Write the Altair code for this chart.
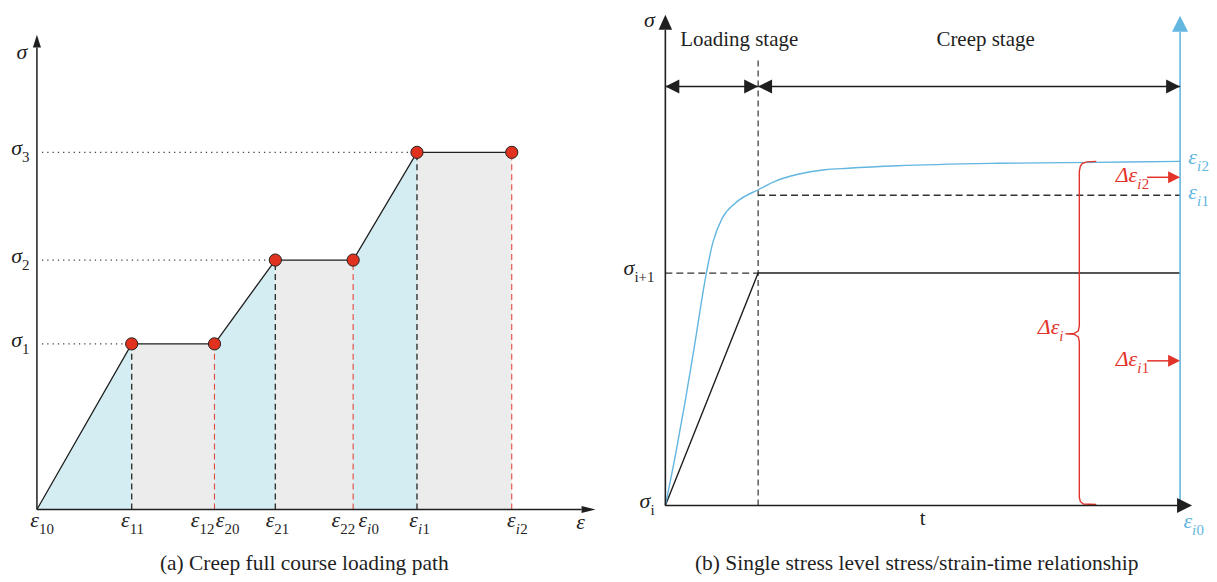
import altair as alt
import pandas as pd

FONT = "Liberation Serif"
BLACK = "#1f1f1f"
RED = "#e2342a"
BLUE = "#62b6e0"
CYAN = "#d4edf2"
GRAY = "#ebeceb"

# ---------------- panel (a): strain (x) vs stress (y) ----------------
a_path_eps = [0.0, 0.95, 1.78, 2.39, 3.17, 3.81, 4.76]
a_path_sig = [0.0, 1.66, 1.66, 2.50, 2.50, 3.58, 3.58]
a_seg_kind = ["load", "creep", "load", "creep", "load", "creep"]
a_dash_black_eps = [0.95, 2.39, 3.81]
a_dash_black_sig = [1.66, 2.50, 3.58]
a_dash_red_eps = [1.78, 3.17, 4.76]
a_dash_red_sig = [1.66, 2.50, 3.58]
a_sigma_levels = [1.66, 2.50, 3.58]
a_sigma_reach = [0.95, 2.39, 3.81]
a_axis_x = [0.0, 5.46]   # x-axis line (arrow base)
a_axis_x_tip = 5.60
a_axis_y = [0.0, 4.63]
a_axis_y_tip = 4.76

a_lab_base = ["σ", "σ", "σ", "ε", "ε", "ε", "ε", "ε", "ε", "ε", "ε", "ε"]
a_lab_subi = ["", "", "", "", "", "", "", "", "", "i", "i", "i"]
a_lab_subn = ["1", "2", "3", "10", "11", "12", "20", "21", "22", "0", "1", "2"]
a_lab_x = [-0.15, -0.15, -0.15, 0.02, 0.93, 1.63, 1.88, 2.38, 3.04, 3.31, 3.82, 4.80]
a_lab_y = [1.68, 2.52, 3.60, -0.13, -0.13, -0.13, -0.13, -0.13, -0.13, -0.13, -0.13, -0.13]

a_sym_text = ["σ", "ε"]
a_sym_x = [-0.15, 5.45]
a_sym_y = [4.59, -0.13]
a_caption = "(a) Creep full course loading path"
a_caption_xy = (2.68, -0.55)

# ---------------- panel (b): time (x) vs stress/strain (y) ----------------
b_load_t = [0.0, 0.93, 5.16]
b_load_s = [0.0, 2.33, 2.33]
b_curve_t = [0.0, 0.10, 0.20, 0.30, 0.40, 0.48, 0.57, 0.70, 0.94, 1.10, 1.33, 1.60,
             1.83, 2.33, 3.33, 4.33, 5.16]
b_curve_s = [0.0, 0.50, 1.05, 1.65, 2.27, 2.65, 2.88, 3.03, 3.17, 3.25, 3.32, 3.365,
             3.38, 3.405, 3.43, 3.44, 3.45]
b_stage_split = 0.93
b_stage_top = 4.47
b_sig_next = 2.33
b_eps_i1 = 3.11
b_end_t = 5.16
b_arrow_s = 4.20
b_brace_t = [4.32, 4.23, 4.18, 4.16, 4.15, 4.15, 4.14, 4.10, 4.01, 4.10, 4.14, 4.15,
             4.15, 4.16, 4.19, 4.32]
b_brace_s = [3.45, 3.445, 3.43, 3.40, 3.35, 1.80, 1.75, 1.725, 1.72, 1.715, 1.69, 1.64,
             0.08, 0.04, 0.015, 0.01]
b_red_arrow_s = [3.29, 1.45]
b_red_arrow_t0 = 4.83
b_axis_y_top = 4.77
b_axis_y_tip = 4.92
b_blue_top = 4.75
b_blue_tip = 4.91
b_axis_x_end = 5.13
b_axis_x_tip = 5.28

b_lab_base = ["σ", "σ", "ε", "ε", "ε", "Δε", "Δε", "Δε"]
b_lab_subi = ["", "", "i", "i", "i", "i", "i", "i"]
b_lab_subn = ["i+1", "i", "2", "1", "0", "2", "1", ""]
b_lab_x = [-0.31, -0.15, 5.33, 5.33, 5.28, 4.73, 4.73, 3.95]
b_lab_y = [2.36, 0.02, 3.47, 3.12, -0.18, 3.29, 1.45, 1.77]
b_lab_col = [BLACK, BLACK, BLUE, BLUE, BLUE, RED, RED, RED]

b_sym_text = ["σ"]
b_sym_x = [-0.16]
b_sym_y = [4.87]
b_plain_text = ["Loading stage", "Creep stage", "t"]
b_plain_x = [0.74, 3.21, 2.58]
b_plain_y = [4.67, 4.67, -0.14]
b_caption = "(b) Single stress level stress/strain-time relationship"
b_caption_xy = (2.52, -0.59)

CAP = 21.5


# ---------------- arrowhead shapes (tip at origin) ----------------
def up(hw):
    return f"M0,0L{-hw},1L{hw},1Z"


def right(hw):
    return f"M0,0L-1,{-hw}L-1,{hw}Z"


def left(hw):
    return f"M0,0L1,{-hw}L1,{hw}Z"


def sz(length):
    return (2 * length) ** 2


def XY(xs, ys, xf="x", yf="y"):
    return dict(x=alt.X(f"{xf}:Q", scale=xs, axis=None),
                y=alt.Y(f"{yf}:Q", scale=ys, axis=None))


def rule_layer(xs, ys, x, x2, y, y2, color, width=1.3, dash=None):
    df = pd.DataFrame({"x": x, "x2": x2, "y": y, "y2": y2})
    kw = dict(color=color, strokeWidth=width)
    if dash:
        kw["strokeDash"] = dash
    return alt.Chart(df).mark_rule(**kw).encode(
        **XY(xs, ys), x2="x2:Q", y2="y2:Q")


def line_layer(xs, ys, x, y, color, width=1.4, interp="linear"):
    df = pd.DataFrame({"x": x, "y": y, "i": list(range(len(x)))})
    return alt.Chart(df).mark_line(color=color, strokeWidth=width, interpolate=interp).encode(
        **XY(xs, ys), order="i:Q")


def head_layer(xs, ys, x, y, shape, length, color):
    df = pd.DataFrame({"x": x, "y": y})
    return alt.Chart(df).mark_point(shape=shape, size=sz(length), filled=True,
                                    color=color, opacity=1, strokeWidth=0).encode(**XY(xs, ys))


def text_layer(xs, ys, texts, x, y, size=21, align="center", style="normal", color=BLACK,
               dx=0, dy=0):
    df = pd.DataFrame({"x": x, "y": y, "t": texts})
    return alt.Chart(df).mark_text(font=FONT, fontSize=size, align=align, baseline="middle",
                                   fontStyle=style, color=color, dx=dx, dy=dy).encode(
        **XY(xs, ys), text="t:N")


SUB = 15


def sub_labels(xs, ys, base, subi, subn, x, y, cols):
    df = pd.DataFrame({"x": x, "y": y, "b": base, "si": subi, "sn": subn, "c": cols})
    col = alt.Color("c:N", scale=None)
    basel = alt.Chart(df).mark_text(font=FONT, fontSize=22, align="right", baseline="middle",
                                    fontStyle="italic", dy=-2).encode(**XY(xs, ys), text="b:N", color=col)
    itl = alt.Chart(df).transform_filter("datum.si != ''").mark_text(
        font=FONT, fontSize=SUB, align="left", baseline="middle", fontStyle="italic", dx=0, dy=7
    ).encode(**XY(xs, ys), text="si:N", color=col)
    n_after_i = alt.Chart(df).transform_filter("datum.si != '' && datum.sn != ''").mark_text(
        font=FONT, fontSize=SUB, align="left", baseline="middle", dx=4.5, dy=7
    ).encode(**XY(xs, ys), text="sn:N", color=col)
    n_plain = alt.Chart(df).transform_filter("datum.si == '' && datum.sn != ''").mark_text(
        font=FONT, fontSize=SUB, align="left", baseline="middle", dx=0, dy=7
    ).encode(**XY(xs, ys), text="sn:N", color=col)
    return [basel, itl, n_after_i, n_plain]


# ================= panel (a) =================
xa = alt.Scale(domain=[-0.29, 5.71], nice=False, zero=False)
ya = alt.Scale(domain=[-0.62, 4.98], nice=False, zero=False)

area_rows = []
for k in range(len(a_seg_kind)):
    for j in (k, k + 1):
        area_rows.append({"seg": k, "kind": a_seg_kind[k], "x": a_path_eps[j],
                          "y": a_path_sig[j], "y0": 0.0})
area_df = pd.DataFrame(area_rows)
area_a = alt.Chart(area_df).mark_area(opacity=1, interpolate="linear").encode(
    **XY(xa, ya), y2="y0:Q", detail="seg:N",
    color=alt.Color("kind:N", scale=alt.Scale(domain=["load", "creep"], range=[CYAN, GRAY]),
                    legend=None))

pts_df = pd.DataFrame({"x": a_path_eps[1:], "y": a_path_sig[1:]})
pts_a = alt.Chart(pts_df).mark_point(shape="circle", size=150, filled=True, fill="#e0321f",
                                     stroke="#222", strokeWidth=1, opacity=1).encode(**XY(xa, ya))

layers_a = [
    area_a,
    rule_layer(xa, ya, a_dash_black_eps, a_dash_black_eps, [0] * 3, a_dash_black_sig,
               "#333", 1.4, [6, 4]),
    rule_layer(xa, ya, a_dash_red_eps, a_dash_red_eps, [0] * 3, a_dash_red_sig,
               "#e04a40", 1.1, [6, 4]),
    rule_layer(xa, ya, [0.05] * 3, a_sigma_reach, a_sigma_levels, a_sigma_levels,
               "#444", 1.3, [1.3, 4]),
    line_layer(xa, ya, a_path_eps, a_path_sig, BLACK, 1.3),
    rule_layer(xa, ya, [a_axis_x[0]], [a_axis_x[1]], [0], [0], BLACK, 1.5),
    rule_layer(xa, ya, [0], [0], [a_axis_y[0]], [a_axis_y[1]], BLACK, 1.5),
    head_layer(xa, ya, [a_axis_x_tip], [0], right(0.25), 14, BLACK),
    head_layer(xa, ya, [0], [a_axis_y_tip], up(0.31), 13, BLACK),
    pts_a,
    text_layer(xa, ya, a_sym_text, a_sym_x, a_sym_y, size=22, style="italic"),
    text_layer(xa, ya, [a_caption], [a_caption_xy[0]], [a_caption_xy[1]], size=CAP),
] + sub_labels(xa, ya, a_lab_base, a_lab_subi, a_lab_subn, a_lab_x, a_lab_y,
               [BLACK] * len(a_lab_x))

panel_a = alt.layer(*layers_a).properties(width=600, height=560)

# ================= panel (b) =================
xb = alt.Scale(domain=[-0.59, 5.44], nice=False, zero=False)
yb = alt.Scale(domain=[-0.66, 4.94], nice=False, zero=False)

layers_b = [
    rule_layer(xb, yb, [b_stage_split], [b_stage_split], [0], [b_stage_top], "#333", 1.2, [6, 4]),
    rule_layer(xb, yb, [0], [b_stage_split], [b_sig_next], [b_sig_next], "#333", 1.3, [7, 4]),
    rule_layer(xb, yb, [b_stage_split], [b_end_t], [b_eps_i1], [b_eps_i1], "#333", 1.3, [7, 4]),
    line_layer(xb, yb, b_load_t, b_load_s, BLACK, 1.4),
    line_layer(xb, yb, b_curve_t, b_curve_s, BLUE, 1.4, "monotone"),
    line_layer(xb, yb, b_brace_t, b_brace_s, RED, 1.4),
    rule_layer(xb, yb, [0], [0], [0], [b_axis_y_top], BLACK, 1.6),
    rule_layer(xb, yb, [0], [b_axis_x_end], [0], [0], BLACK, 1.6),
    rule_layer(xb, yb, [b_end_t], [b_end_t], [0], [b_blue_top], BLUE, 1.6),
    rule_layer(xb, yb, [0], [b_end_t], [b_arrow_s], [b_arrow_s], BLACK, 1.5),
    rule_layer(xb, yb, [b_red_arrow_t0] * 2, [b_end_t - 0.1] * 2, b_red_arrow_s, b_red_arrow_s,
               RED, 1.5),
    head_layer(xb, yb, [0], [b_axis_y_tip], up(0.45), 15, BLACK),
    head_layer(xb, yb, [b_end_t], [b_blue_tip], up(0.5), 16, BLUE),
    head_layer(xb, yb, [b_axis_x_tip], [0], right(0.5), 15, BLACK),
    head_layer(xb, yb, [0, b_stage_split], [b_arrow_s] * 2, left(0.5), 14, BLACK),
    head_layer(xb, yb, [b_stage_split, b_end_t], [b_arrow_s] * 2, right(0.5), 14, BLACK),
    head_layer(xb, yb, [b_end_t] * 2, b_red_arrow_s, right(0.5), 12, RED),
    text_layer(xb, yb, b_sym_text, b_sym_x, b_sym_y, size=22, style="italic"),
    text_layer(xb, yb, b_plain_text, b_plain_x, b_plain_y),
    text_layer(xb, yb, [b_caption], [b_caption_xy[0]], [b_caption_xy[1]], size=CAP),
] + sub_labels(xb, yb, b_lab_base, b_lab_subi, b_lab_subn, b_lab_x, b_lab_y, b_lab_col)

panel_b = alt.layer(*layers_b).properties(width=603, height=560)

chart = alt.hconcat(panel_a, panel_b, spacing=0).properties(
    padding=0
).configure_view(stroke=None)

chart.save("out.html", embed_options={"renderer": "svg", "actions": False})
